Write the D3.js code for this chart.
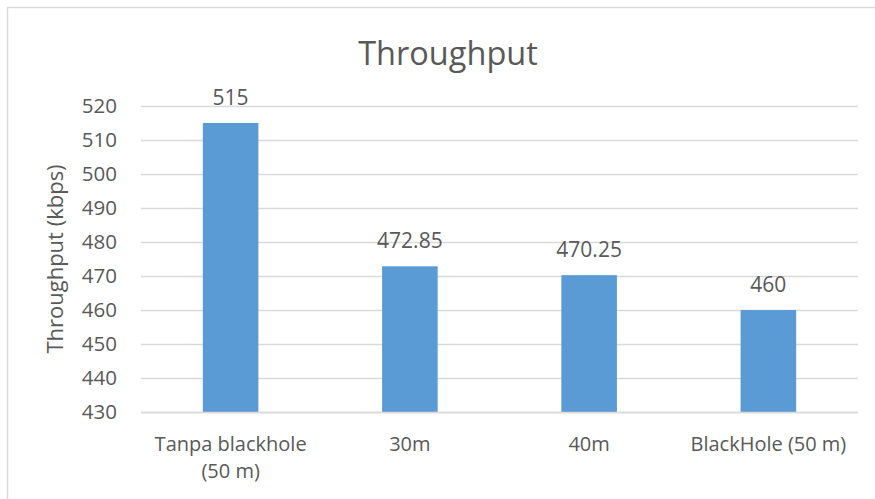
<!DOCTYPE html>
<html>
<head>
<meta charset="utf-8">
<script src="https://cdn.jsdelivr.net/npm/d3@7"></script>
<style>
  html, body { margin: 0; padding: 0; background: #fff; }
  svg { display: block; }
  text { font-family: "Open Sans", "Noto Sans", sans-serif; fill: #595959; }
</style>
</head>
<body>
<script>
const categories = [["Tanpa blackhole", "(50 m)"], ["30m"], ["40m"], ["BlackHole (50 m)"]];
const values = [515, 472.85, 470.25, 460];
const valueLabels = ["515", "472.85", "470.25", "460"];
const yTicks = [430, 440, 450, 460, 470, 480, 490, 500, 510, 520];
const chartTitle = "Throughput";
const yTitle = "Throughput (kbps)";

const W = 875, H = 499;
const svg = d3.select("body").append("svg").attr("width", W).attr("height", H);

// chart border (extends past right/bottom edge)
svg.append("rect").attr("x", 7.5).attr("y", 7.5).attr("width", 882).attr("height", 500)
  .attr("fill", "#fff").attr("stroke", "#d9d9d9").attr("stroke-width", 1.5);

const pL = 141, pR = 858, pT = 106, pB = 412;
const y = d3.scaleLinear().domain([430, 520]).range([pB, pT]);
const x = d3.scaleBand().domain(d3.range(categories.length)).range([pL, pR])
  .paddingInner(0.69).paddingOuter(0.345);

// gridlines
svg.append("g").selectAll("line").data(yTicks).join("line")
  .attr("x1", pL).attr("x2", pR)
  .attr("y1", d => Math.round(y(d)) + 0.5).attr("y2", d => Math.round(y(d)) + 0.5)
  .attr("stroke", "#d9d9d9").attr("stroke-width", 1.3);

// y axis labels
const yAxis = d3.axisLeft(y).tickValues(yTicks).tickSize(0).tickPadding(24);
const gy = svg.append("g").attr("transform", `translate(${pL},0)`).call(yAxis);
gy.select(".domain").remove();
gy.selectAll("text").style("font-size", "20.5px").attr("fill", "#595959")
  .style("font-family", '"Open Sans", sans-serif');

// bars
svg.append("g").selectAll("rect").data(values).join("rect")
  .attr("x", (d, i) => x(i)).attr("width", x.bandwidth())
  .attr("y", d => y(d)).attr("height", d => pB - y(d))
  .attr("fill", "#5b9bd5");

// value labels
svg.append("g").selectAll("text").data(values).join("text")
  .attr("x", (d, i) => x(i) + x.bandwidth() / 2)
  .attr("y", d => y(d) - 18)
  .attr("text-anchor", "middle").style("font-size", "21px")
  .text((d, i) => valueLabels[i]);

// axis baseline
svg.append("line").attr("x1", pL).attr("x2", pR)
  .attr("y1", pB + 0.5).attr("y2", pB + 0.5)
  .attr("stroke", "#d9d9d9").attr("stroke-width", 1.5);

// category labels (one text element per line)
const catLines = [];
categories.forEach((lines, i) => lines.forEach((t, j) => catLines.push({ i, j, t })));
svg.append("g").selectAll("text").data(catLines).join("text")
  .attr("x", d => x(d.i) + x.bandwidth() / 2)
  .attr("y", d => 451 + d.j * 27)
  .attr("text-anchor", "middle").style("font-size", "20px")
  .text(d => d.t);

// title
svg.append("text").attr("x", 448).attr("y", 65).attr("text-anchor", "middle")
  .style("font-size", "32.5px").text(chartTitle);

// y title
svg.append("text").attr("transform", `translate(63,${(pT + pB) / 2}) rotate(-90)`)
  .attr("text-anchor", "middle").style("font-size", "22px").text(yTitle);
</script>
</body>
</html>
